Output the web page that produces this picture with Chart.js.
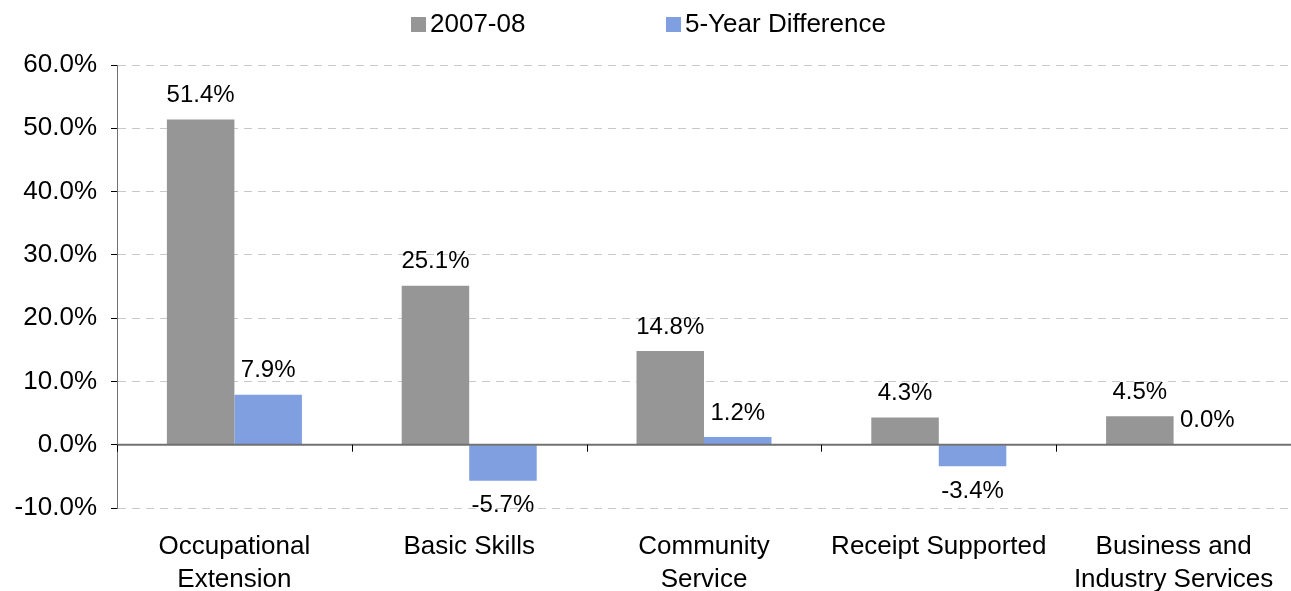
<!DOCTYPE html>
<html>
<head>
<meta charset="utf-8">
<script src="https://cdn.jsdelivr.net/npm/chart.js@4"></script>
<style>
  html, body { margin: 0; padding: 0; background: #fff; }
  #wrap { width: 1291px; height: 591px; }
</style>
</head>
<body>
<div id="wrap"><canvas id="chart" width="1291" height="591"></canvas></div>
<script>
// chart data
const categories = [
    ['Occupational', 'Extension'],
    ['Basic Skills'],
    ['Community', 'Service'],
    ['Receipt Supported'],
    ['Business and', 'Industry Services']
];
const seriesNames = ['2007-08', '5-Year Difference'];
const values2007 = [51.4, 25.1, 14.8, 4.3, 4.5];
const valuesDiff = [7.9, -5.7, 1.2, -3.4, 0.0];
const yTicks = [-10, 0, 10, 20, 30, 40, 50, 60];

const GRAY = '#969696';
const BLUE = '#7f9fe0';
const FONT = '"Liberation Sans", Arial, sans-serif';

// legend drawn by hand so spacing matches
const legendPlugin = {
    id: 'topLegend',
    afterDraw(chart) {
        const ctx = chart.ctx;
        ctx.save();
        ctx.font = '26px ' + FONT;
        ctx.textBaseline = 'middle';
        const items = [
            { text: seriesNames[0], color: GRAY, x: 411 },
            { text: seriesNames[1], color: BLUE, x: 666 }
        ];
        items.forEach(it => {
            ctx.fillStyle = it.color;
            ctx.fillRect(it.x, 17, 15, 15);
            ctx.fillStyle = '#000';
            ctx.fillText(it.text, it.x + 19, 25);
        });
        ctx.restore();
    }
};

// zero axis line, category tick marks and value labels
const axisAndLabels = {
    id: 'axisAndLabels',
    afterDatasetsDraw(chart) {
        const ctx = chart.ctx;
        const area = chart.chartArea;
        const y0 = chart.scales.y.getPixelForValue(0);
        ctx.save();
        ctx.strokeStyle = '#707070';
        ctx.lineWidth = 2;
        ctx.beginPath();
        ctx.moveTo(area.left, y0);
        ctx.lineTo(area.right, y0);
        ctx.stroke();
        ctx.lineWidth = 1;
        ctx.strokeStyle = '#000';
        const n = categories.length;
        const w = (area.right - area.left) / n;
        for (let i = 0; i <= n; i++) {
            const x = Math.round(area.left + i * w) + 0.5;
            ctx.beginPath();
            ctx.moveTo(x, y0);
            ctx.lineTo(x, y0 + 7);
            ctx.stroke();
        }

        ctx.font = '24px ' + FONT;
        ctx.fillStyle = '#000';
        ctx.textAlign = 'center';
        chart.data.datasets.forEach((ds, di) => {
            chart.getDatasetMeta(di).data.forEach((bar, i) => {
                const v = ds.data[i];
                if (v < 0) {
                    ctx.textBaseline = 'top';
                    ctx.fillText(v.toFixed(1) + '%', bar.x, bar.y + 13);
                } else {
                    ctx.textBaseline = 'bottom';
                    ctx.fillText(v.toFixed(1) + '%', bar.x, bar.y - 12);
                }
            });
        });
        ctx.restore();
    }
};

const ctx = document.getElementById('chart').getContext('2d');
window.programChart = new Chart(ctx, {
    type: 'bar',
    data: {
        labels: categories,
        datasets: [{
            label: seriesNames[0],
            data: values2007,
            backgroundColor: GRAY
        }, {
            label: seriesNames[1],
            data: valuesDiff,
            backgroundColor: BLUE
        }]
    },
    options: {
        responsive: false,
        maintainAspectRatio: false,
        devicePixelRatio: 1,
        animation: false,
        layout: { padding: { top: 65, right: 0, left: 0, bottom: 0 } },
        datasets: {
            bar: { categoryPercentage: 0.575, barPercentage: 1.0 }
        },
        plugins: {
            legend: { display: false },
            tooltip: { enabled: false }
        },
        scales: {
            x: {
                grid: { display: false },
                border: { display: false },
                ticks: {
                    color: '#000',
                    font: { family: FONT, size: 26, lineHeight: 1.27 },
                    padding: 14,
                    maxRotation: 0,
                    autoSkip: false
                },
                afterFit(scale) { scale.height = 83; }
            },
            y: {
                min: -10,
                max: 60,
                afterBuildTicks(scale) {
                    scale.ticks = yTicks.map(v => ({ value: v }));
                },
                grid: {
                    color: '#c8c8c8',
                    lineWidth: 1,
                    tickLength: 6,
                    tickColor: '#000',
                    drawTicks: true
                },
                // in v4 border.dash dashes the gridlines; the axis line stays solid
                border: { display: true, color: '#707070', width: 1, dash: [8, 6] },
                ticks: {
                    color: '#000',
                    font: { family: FONT, size: 26 },
                    padding: 14,
                    callback: v => v.toFixed(1) + '%'
                },
                afterFit(scale) { scale.width = 117; }
            }
        }
    },
    plugins: [legendPlugin, axisAndLabels]
});
</script>
</body>
</html>
